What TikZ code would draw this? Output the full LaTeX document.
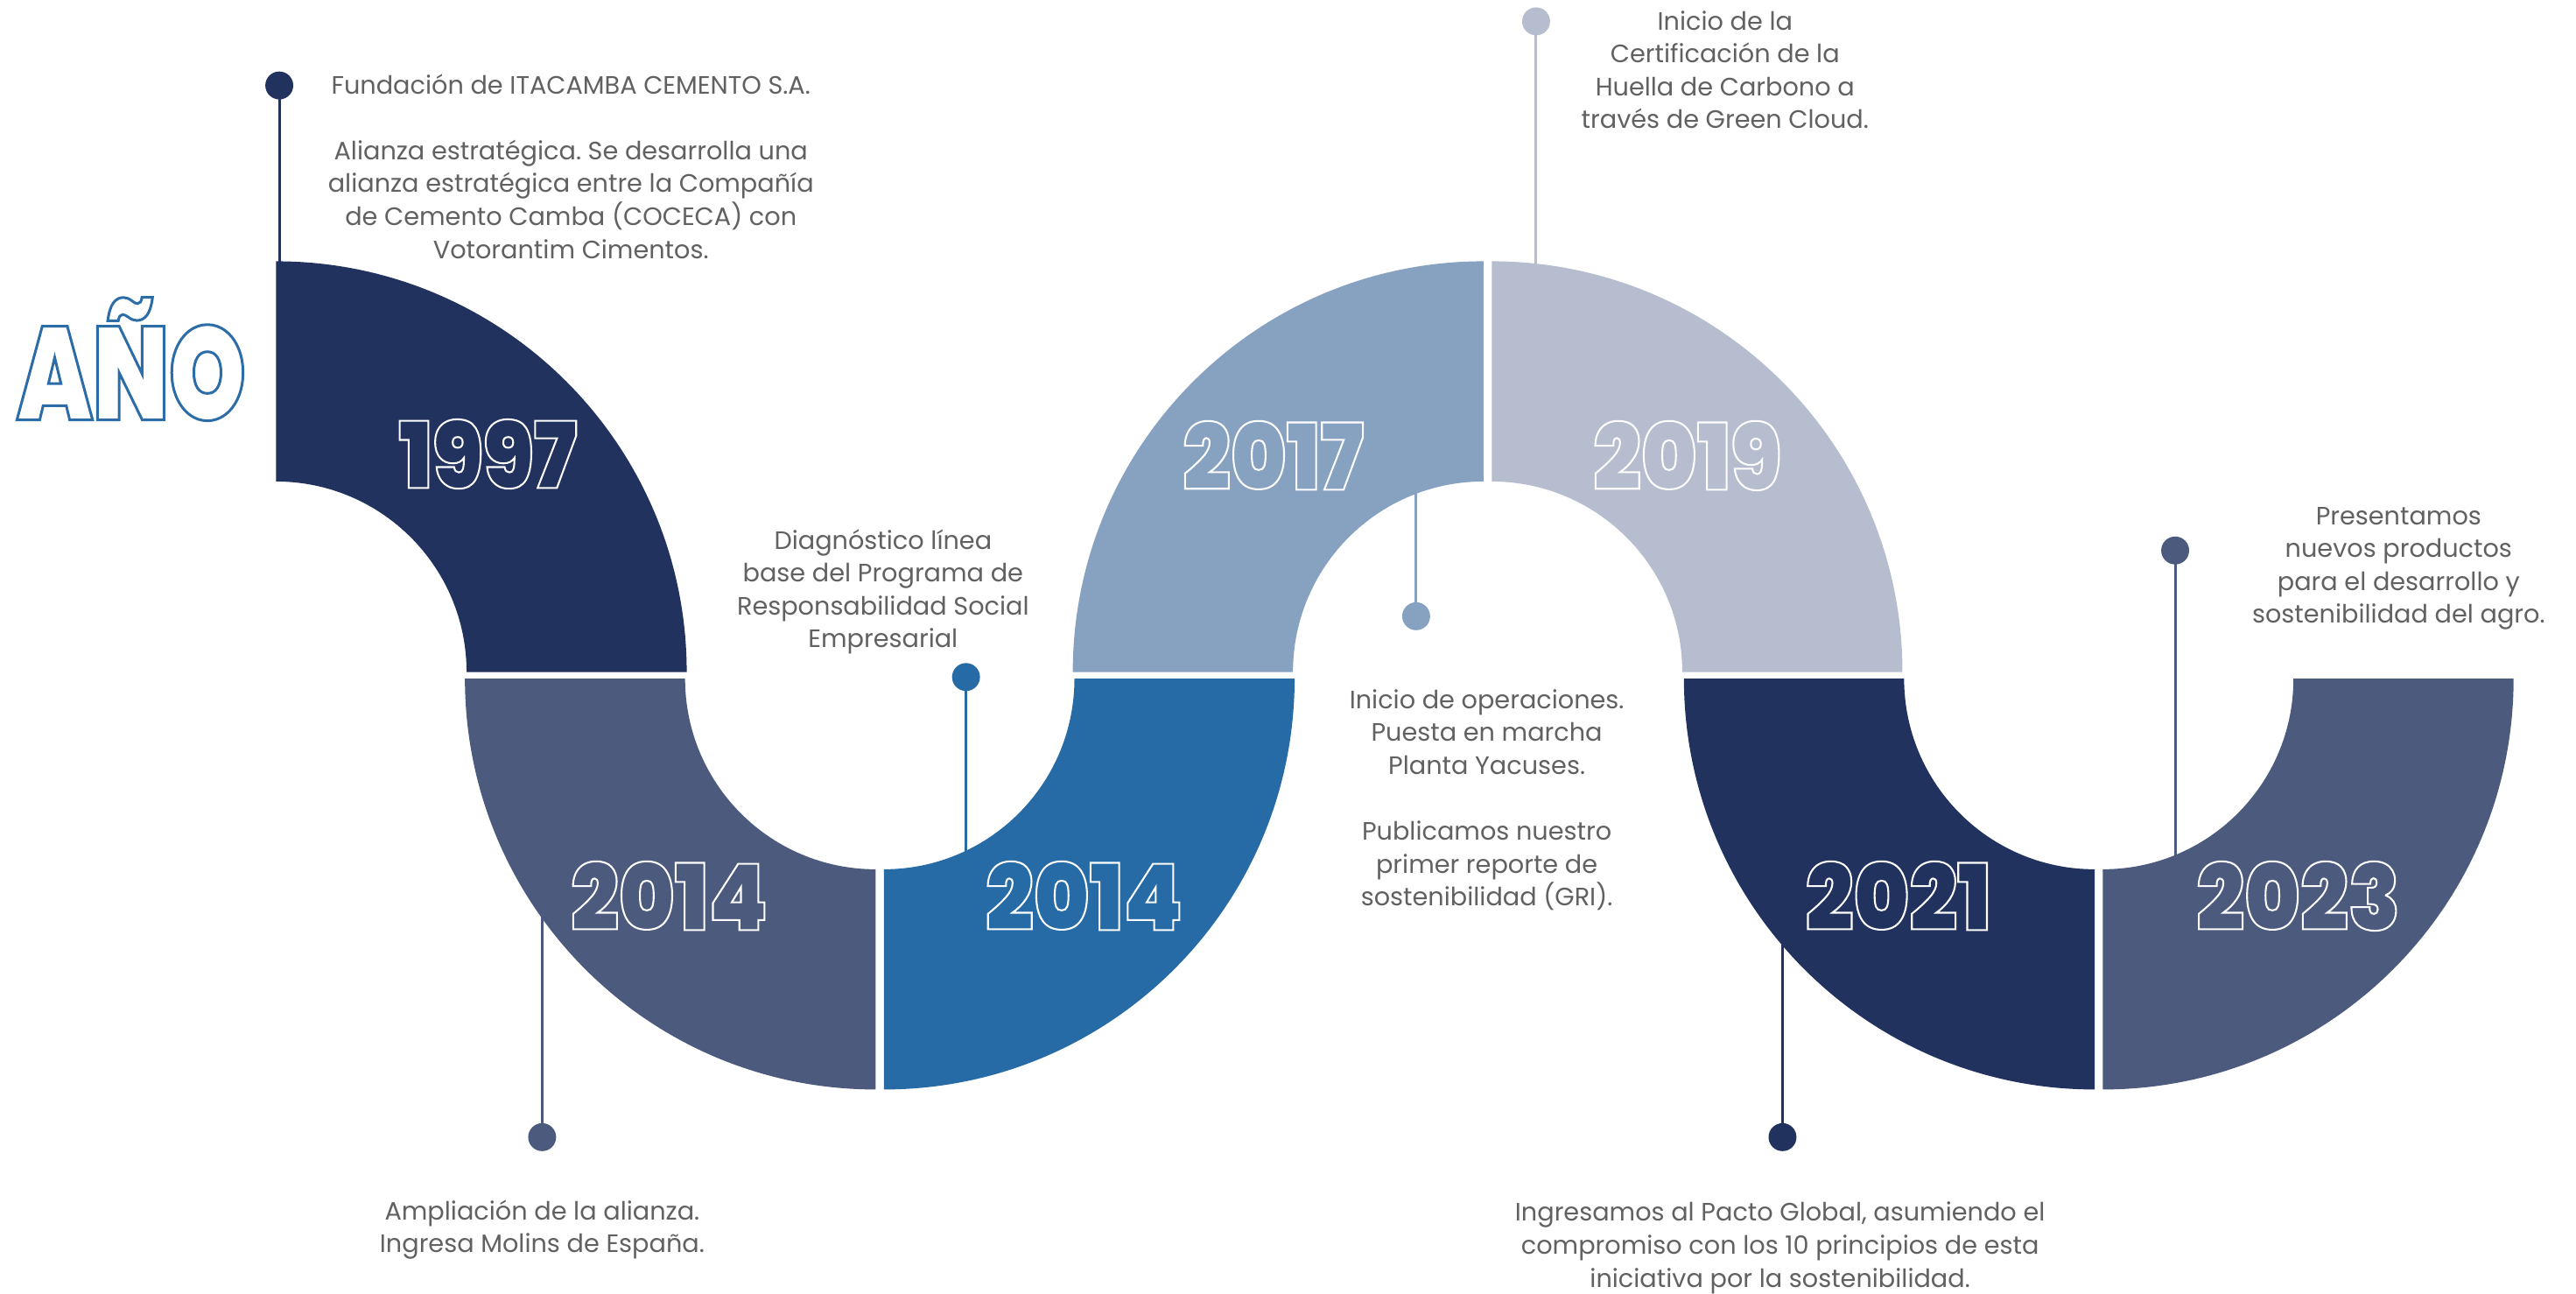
\documentclass[tikz,border=0pt]{standalone}
\usepackage{fontspec}
\setmainfont{Poppins}
\newfontfamily\yearfont{Poppins Black}[FakeStretch=0.92]
\newfontfamily\titlefont{Poppins Black}[FakeStretch=0.74]
\frenchspacing
\definecolor{navy}{HTML}{22325F}
\definecolor{slate}{HTML}{4B5A7D}
\definecolor{midblue}{HTML}{266BA6}
\definecolor{lightblue}{HTML}{87A2C0}
\definecolor{grayblue}{HTML}{B5BDCE}
\definecolor{txtgray}{HTML}{616161}
\definecolor{anoblue}{HTML}{2C6DA8}
% outlined text: #1 stroke rgb, #2 stroke width, #3 text
\newcommand\outl[3]{\special{pdf:literal direct 2 Tr #1 RG #2 w}#3\special{pdf:literal direct 0 Tr}}
\newcommand\st{\rule{0pt}{14pt}}
\tikzset{
  desc/.style={font=\fontsize{15.3}{20}\selectfont\frenchspacing, text=txtgray, align=center, inner sep=0pt, anchor=north},
  dot/.style={circle, minimum size=17pt, inner sep=0pt},
  conn/.style={line width=1.6pt},
  yearlbl/.style={font=\yearfont\fontsize{56}{56}\selectfont, inner sep=0pt, anchor=base},
}
\begin{document}
\begin{tikzpicture}[x=1pt,y=-1pt]
\useasboundingbox (0,0) rectangle (1568,787);
\fill[white] (0,0) rectangle (1568,787);
% segments
\fill[navy] (168,159) arc[start angle=-90,end angle=0,radius=250] -- (284,409) arc[start angle=0,end angle=-90,radius=116] -- cycle;
\fill[slate] (283,413) arc[start angle=180,end angle=90,radius=250] -- (533,529) arc[start angle=90,end angle=180,radius=116] -- cycle;
\fill[midblue] (538,663) arc[start angle=90,end angle=0,radius=250] -- (654,413) arc[start angle=0,end angle=90,radius=116] -- cycle;
\fill[lightblue] (653,409) arc[start angle=180,end angle=270,radius=250] -- (903,293) arc[start angle=270,end angle=180,radius=116] -- cycle;
\fill[grayblue] (908,159) arc[start angle=270,end angle=360,radius=250] -- (1024,409) arc[start angle=360,end angle=270,radius=116] -- cycle;
\fill[navy] (1025,413) arc[start angle=180,end angle=90,radius=250] -- (1275,529) arc[start angle=90,end angle=180,radius=116] -- cycle;
\fill[slate] (1280,663) arc[start angle=90,end angle=0,radius=250] -- (1396,413) arc[start angle=0,end angle=90,radius=116] -- cycle;
% connectors and dots
\coordinate (e1) at (170,161);
\coordinate (e2) at (330,558);
\coordinate (e3) at (588,519);
\coordinate (e4) at (862,299);
\coordinate (e5) at (935,162);
\coordinate (e6) at (1085,575);
\coordinate (e7) at (1324,521);
\node[dot, fill=navy] (d1) at (170,52) {};
\node[dot, fill=slate] (d2) at (330,692) {};
\node[dot, fill=midblue] (d3) at (588,412) {};
\node[dot, fill=lightblue] (d4) at (862,375) {};
\node[dot, fill=grayblue] (d5) at (935,13) {};
\node[dot, fill=navy] (d6) at (1085,692) {};
\node[dot, fill=slate] (d7) at (1324,335) {};
\draw[conn, navy] (d1.center) -- (e1);
\draw[conn, slate] (e2) -- (d2.center);
\draw[conn, midblue] (d3.center) -- (e3);
\draw[conn, lightblue] (e4) -- (d4.center);
\draw[conn, grayblue] (d5.center) -- (e5);
\draw[conn, navy] (e6) -- (d6.center);
\draw[conn, slate] (d7.center) -- (e7);
% years
\node[yearlbl, text=navy] (y1) at (297,297) {\outl{1 1 1}{1.1}{1997}};
\node[yearlbl, text=slate] (y2) at (407.5,566) {\outl{1 1 1}{1.1}{2014}};
\node[yearlbl, text=midblue] (y3) at (660,566) {\outl{1 1 1}{1.1}{2014}};
\node[yearlbl, text=lightblue] (y4) at (775,298) {\outl{1 1 1}{1.1}{2017}};
\node[yearlbl, text=grayblue] (y5) at (1027,298) {\outl{1 1 1}{1.1}{2019}};
\node[yearlbl, text=navy] (y6) at (1155.5,566) {\outl{1 1 1}{1.1}{2021}};
\node[yearlbl, text=slate] (y7) at (1399,566) {\outl{1 1 1}{1.1}{2023}};
% title
\node[font=\titlefont\fontsize{80.5}{80.5}\selectfont, inner sep=0pt, anchor=base, text=white] (ano) at (80,255.5) {\outl{0.172 0.427 0.659}{1.6}{AÑO}};
% descriptions
\node[desc] (t1) at (347.5,43) {\st Fundación de ITACAMBA CEMENTO S.A.\\[20pt]Alianza estratégica. Se desarrolla una\\alianza estratégica entre la Compañía\\de Cemento Camba (COCECA) con\\Votorantim Cimentos.};
\node[desc] (t2) at (330,728) {\st Ampliación de la alianza.\\Ingresa Molins de España.};
\node[desc] (t3) at (537.5,320) {\st Diagnóstico línea\\base del Programa de\\Responsabilidad Social\\Empresarial};
\node[desc] (t4) at (1050,4) {\st Inicio de la\\Certificación de la\\Huella de Carbono a\\través de Green Cloud.};
\node[desc] (t5) at (905,417) {\st Inicio de operaciones.\\Puesta en marcha\\Planta Yacuses.\\[20pt]Publicamos nuestro\\primer reporte de\\sostenibilidad (GRI).};
\node[desc] (t6) at (1083.5,729) {\st Ingresamos al Pacto Global, asumiendo el\\compromiso con los 10 principios de esta\\iniciativa por la sostenibilidad.};
\node[desc] (t7) at (1460,305) {\st Presentamos\\nuevos productos\\para el desarrollo y\\sostenibilidad del agro.};
\end{tikzpicture}
\end{document}
